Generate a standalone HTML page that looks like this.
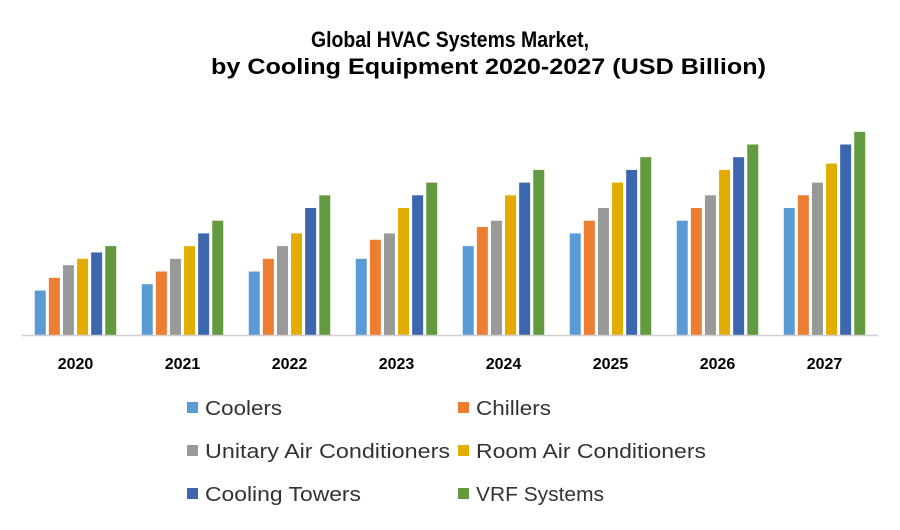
<!DOCTYPE html>
<html><head><meta charset="utf-8"><style>
body{margin:0;background:#fff;width:900px;height:525px;overflow:hidden;font-family:"Liberation Sans",sans-serif}
</style></head><body>
<svg width="900" height="525">
<text x="311" y="47" textLength="278" lengthAdjust="spacingAndGlyphs" font-size="22" font-weight="bold">Global HVAC Systems Market,</text>
<text x="211" y="74" textLength="555" lengthAdjust="spacingAndGlyphs" font-size="22" font-weight="bold">by Cooling Equipment 2020-2027 (USD Billion)</text>
<g id="bars"></g>
<line x1="22" y1="335.5" x2="878" y2="335.5" stroke="#d0d0d0" stroke-width="1.5"/>
<g id="xt"></g>
<g id="legend"></g>
</svg>
<script>
const categories=["2020","2021","2022","2023","2024","2025","2026","2027"];
const seriesNames=["Coolers","Chillers","Unitary Air Conditioners","Room Air Conditioners","Cooling Towers","VRF Systems"];
const coolers=[3.5,4,5,6,7,8,9,10];
const chillers=[4.5,5,6,7.5,8.5,9,10,11];
const unitary=[5.5,6,7,8,9,10,11,12];
const room=[6,7,8,10,11,12,13,13.5];
const towers=[6.5,8,10,11,12,13,14,15];
const vrf=[7,9,11,12,13,14,15,16];
const series=[coolers,chillers,unitary,room,towers,vrf];
const colors=["#5b9bd5","#ed7d31","#999999","#e2ac00","#3c66ae","#629a3f"];
const legendLens=[77,75,245,230,156,128];
const NS="http://www.w3.org/2000/svg";
const x0=22,gw=107,base=335,scale=12.7,bw=11,step=14.1;
function xg(i){return x0+gw*i+gw/2;}
function yv(v){return base-v*scale;}
const bars=document.getElementById('bars');
categories.forEach((c,i)=>{
 series.forEach((s,j)=>{
  const r=document.createElementNS(NS,'rect');
  const x=xg(i)-(6*step-(step-bw))/2+j*step;
  r.setAttribute('x',x);r.setAttribute('y',yv(s[i]));
  r.setAttribute('width',bw);r.setAttribute('height',base-yv(s[i]));
  r.setAttribute('fill',colors[j]);
  
  
  bars.appendChild(r);
 });
 const t=document.createElementNS(NS,'text');
 t.setAttribute('x',xg(i));t.setAttribute('y',369);
 t.setAttribute('text-anchor','middle');t.setAttribute('font-size','16');t.setAttribute('font-weight','bold');
 t.textContent=c;
 
 
 document.getElementById('xt').appendChild(t);
});
const lg=document.getElementById('legend');
seriesNames.forEach((n,j)=>{
 const lx=j%2?458:187, ly=408+Math.floor(j/2)*43;
 const g=document.createElementNS(NS,'g');
 
 
 const r=document.createElementNS(NS,'rect');
 r.setAttribute('x',lx);r.setAttribute('y',ly-6);r.setAttribute('width',11);r.setAttribute('height',11);r.setAttribute('fill',colors[j]);
 const t=document.createElementNS(NS,'text');
 t.setAttribute('x',lx+18);t.setAttribute('y',ly+7);t.setAttribute('font-size','20');t.setAttribute('fill','#333');
 t.setAttribute('textLength',legendLens[j]);t.setAttribute('lengthAdjust','spacingAndGlyphs');
 t.textContent=n;
 g.appendChild(r);g.appendChild(t);lg.appendChild(g);
});
</script>
</body></html>
